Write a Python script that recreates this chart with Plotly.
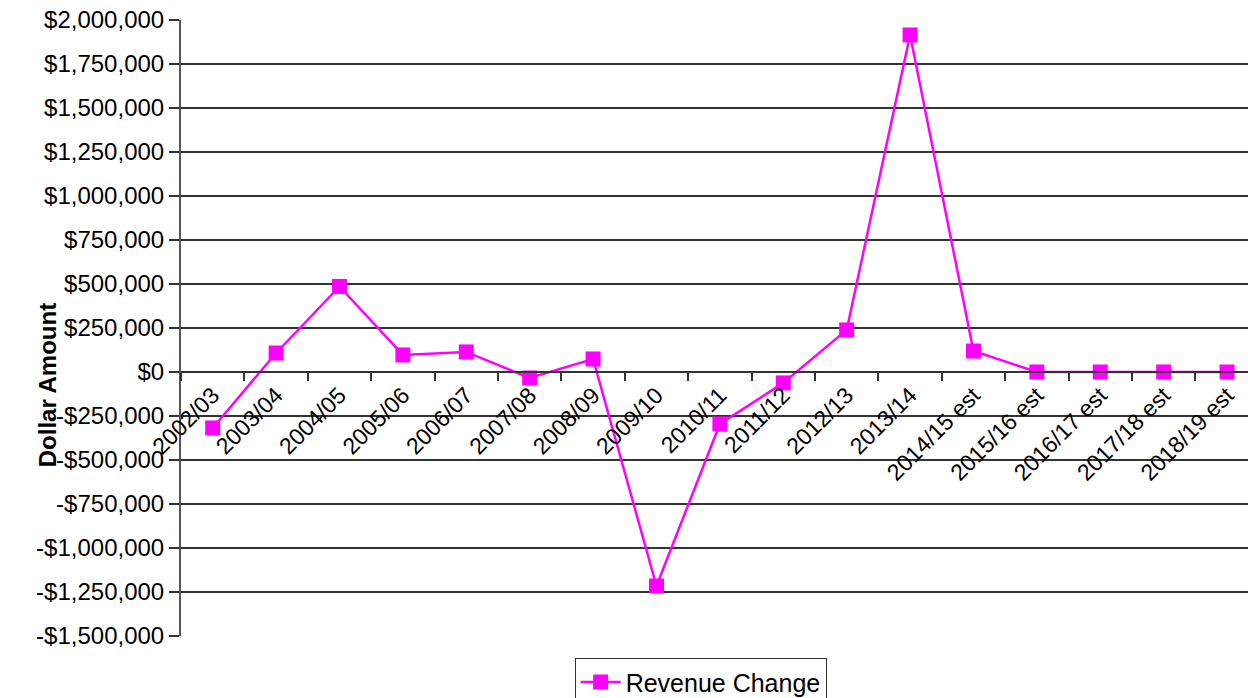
import plotly.graph_objects as go

categories = ["2002/03", "2003/04", "2004/05", "2005/06", "2006/07", "2007/08",
              "2008/09", "2009/10", "2010/11", "2011/12", "2012/13", "2013/14",
              "2014/15 est", "2015/16 est", "2016/17 est", "2017/18 est", "2018/19 est"]
revenue_change = [-318000, 108000, 486000, 97000, 114000, -34000, 74000, -1216000,
                  -295000, -62000, 239000, 1915000, 119000, 0, 0, 0, 0]
y_tick_vals = [2000000, 1750000, 1500000, 1250000, 1000000, 750000, 500000, 250000, 0,
               -250000, -500000, -750000, -1000000, -1250000, -1500000]
y_tick_text = ["$2,000,000", "$1,750,000", "$1,500,000", "$1,250,000", "$1,000,000",
               "$750,000", "$500,000", "$250,000", "$0", "-$250,000", "-$500,000",
               "-$750,000", "-$1,000,000", "-$1,250,000", "-$1,500,000"]

FONT = "Liberation Sans, Arial, sans-serif"
y_min, y_max = -1500000, 2000000

fig = go.Figure()
fig.add_trace(go.Scatter(
    x=categories, y=revenue_change, mode="lines+markers", name="Revenue Change",
    line=dict(color="#FF00FF", width=2.5),
    marker=dict(symbol="square", size=15, color="#FF00FF"),
))

fig.update_layout(
    width=1248, height=698,
    margin=dict(l=181, r=0, t=20, b=62, autoexpand=False),
    paper_bgcolor="white", plot_bgcolor="white",
    font=dict(family=FONT, color="black", size=23),
    showlegend=True,
    legend=dict(orientation="h", x=0.487, xanchor="center", y=-0.036, yanchor="top",
                bordercolor="#333", borderwidth=1, font=dict(size=25),
                itemwidth=40, tracegroupgap=0),
    xaxis=dict(
        type="category", range=[-0.5, 16.33],
        anchor="free", position=(0 - y_min) / (y_max - y_min),
        showgrid=False, zeroline=False,
        showline=True, linecolor="#333", linewidth=1.5,
        ticks="outside", tickson="boundaries", ticklen=8, tickcolor="#333", tickwidth=1.5,
        tickangle=-45, tickfont=dict(size=23),
    ),
    yaxis=dict(
        range=[y_min, y_max], tickvals=y_tick_vals, ticktext=y_tick_text,
        showgrid=True, gridcolor="#333", gridwidth=1.5,
        zeroline=True, zerolinecolor="#333", zerolinewidth=1.5,
        showline=True, linecolor="#555", linewidth=2,
        ticks="outside", ticklen=10, tickcolor="#333", tickwidth=1.5,
        tickfont=dict(size=24),
    ),
)

fig.add_annotation(
    text="<b>Dollar Amount</b>", xref="paper", yref="paper",
    x=-0.1256, y=0.407, xanchor="center", yanchor="middle", textangle=-90,
    showarrow=False, font=dict(size=24, family=FONT, color="black"),
)

fig.write_html("out.html", config={"displayModeBar": False},
               post_script="document.body.style.margin='0';document.body.style.overflow='hidden';")
